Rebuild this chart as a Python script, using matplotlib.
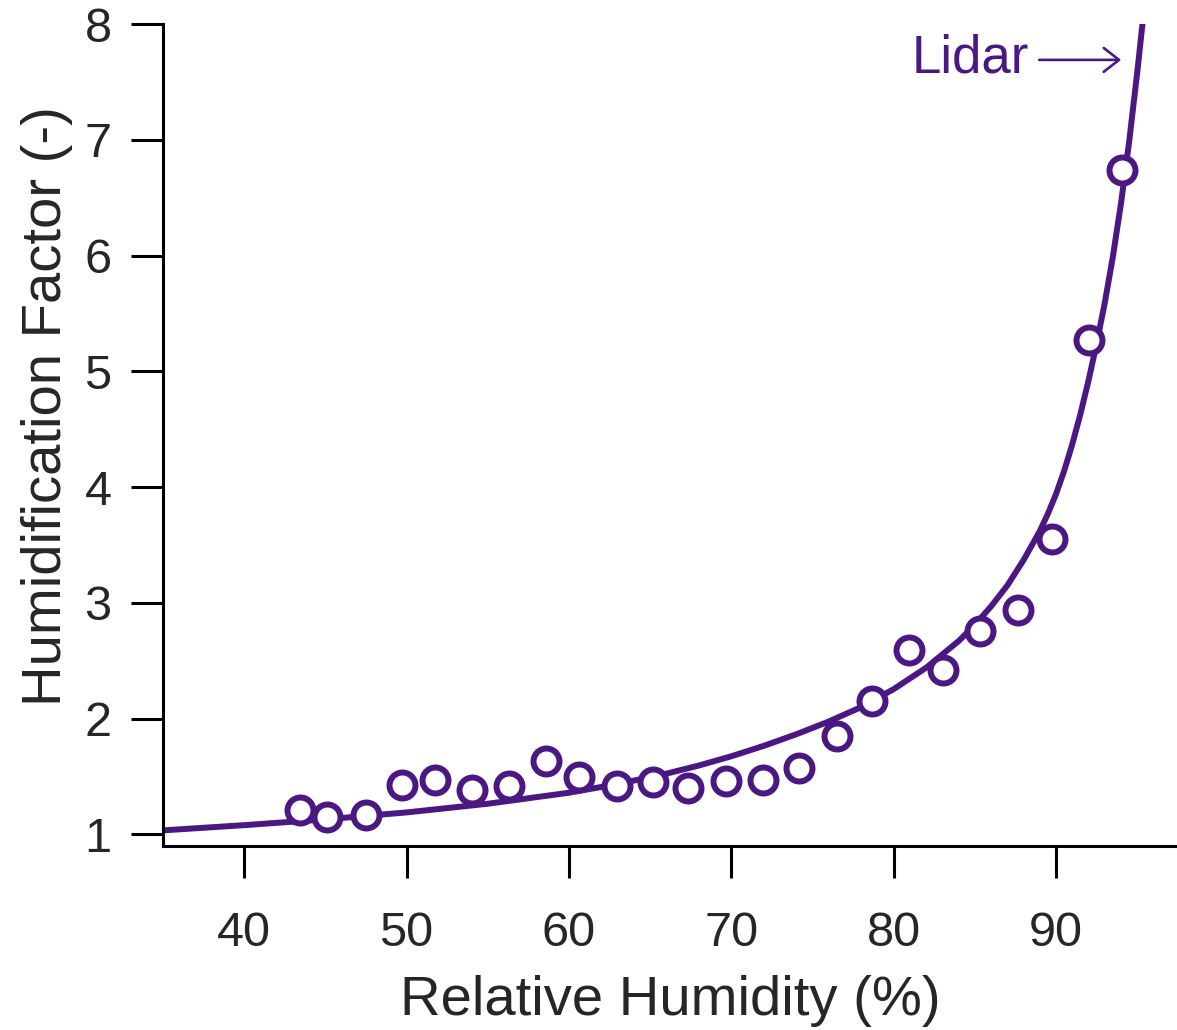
import matplotlib
matplotlib.use('Agg')
import matplotlib.pyplot as plt

# observed humidification factor vs RH
rh_obs = [43.45, 45.09, 47.49, 49.71, 51.73, 54.03, 56.33, 58.59, 60.65, 62.97,
          65.17, 67.34, 69.65, 71.95, 74.17, 76.53, 78.69, 80.95, 83.06, 85.30,
          87.67, 89.78, 92.05, 94.04]
f_obs = [1.21, 1.15, 1.17, 1.43, 1.47, 1.38, 1.42, 1.63, 1.50, 1.42,
         1.45, 1.40, 1.46, 1.47, 1.57, 1.85, 2.15, 2.59, 2.42, 2.76,
         2.94, 3.55, 5.27, 6.74]

# fitted curve
rh_fit = [35, 40, 45, 50, 55, 60, 62, 64, 66, 68, 70, 72, 74, 76, 78, 80,
          82, 84, 85, 86, 87, 88, 88.5, 89, 89.5, 90, 90.5, 91, 91.5, 92,
          92.5, 93, 93.5, 94, 94.5, 95, 95.5]
f_fit = [1.035, 1.08, 1.13, 1.19, 1.265, 1.36, 1.41, 1.465, 1.525, 1.595,
         1.675, 1.765, 1.865, 1.975, 2.10, 2.255, 2.44, 2.67, 2.81, 2.97,
         3.15, 3.37, 3.495, 3.62, 3.77, 3.94, 4.14, 4.37, 4.63, 4.92,
         5.24, 5.59, 5.99, 6.45, 6.98, 7.58, 8.23]

purple = '#4b1782'
text_col = '#262626'

plt.rcParams['font.family'] = ['Liberation Sans', 'DejaVu Sans']

fig = plt.figure(figsize=(11.77, 10.30), dpi=100)
ax = fig.add_axes([163 / 1177, 1 - 846 / 1030, 1 - 163 / 1177, (846 - 24) / 1030])

ax.plot(rh_fit, f_fit, color=purple, lw=4.3, zorder=2, solid_joinstyle='round')
ax.plot(rh_obs, f_obs, 'o', ms=18.7, mfc='white', mec=purple, mew=4.3,
        zorder=3, clip_on=False)

ax.set_xlim(35, 97.45)
ax.set_ylim(0.9, 8.0)
ax.set_xticks([40, 50, 60, 70, 80, 90])
ax.set_yticks(range(1, 9))

for s in ['top', 'right']:
    ax.spines[s].set_visible(False)
for s in ['left', 'bottom']:
    ax.spines[s].set_linewidth(2.2)
    ax.spines[s].set_color('black')

ax.tick_params(axis='x', length=23, width=2.2, pad=24, labelsize=35,
               labelcolor=text_col, color='black')
ax.tick_params(axis='y', length=23, width=2.2, pad=14, labelsize=35,
               labelcolor=text_col, color='black')

ax.set_xlabel('Relative Humidity (%)', fontsize=40.5, color=text_col)
ax.set_ylabel('Humidification Factor (-)', fontsize=40.5, color=text_col)
ax.xaxis.set_label_coords(0.5, -0.1565)
ax.yaxis.set_label_coords(-0.089, 0.535)

ax.text(88.35, 7.585, 'Lidar', fontsize=38, color=purple, ha='right', va='baseline')
ax.annotate('', xy=(94.01, 7.69), xytext=(88.96, 7.69),
            arrowprops=dict(arrowstyle='->,head_length=0.55,head_width=0.43',
                            mutation_scale=20, lw=1.9, color=purple,
                            shrinkA=0, shrinkB=0))

fig.savefig('out.png', dpi=100)
